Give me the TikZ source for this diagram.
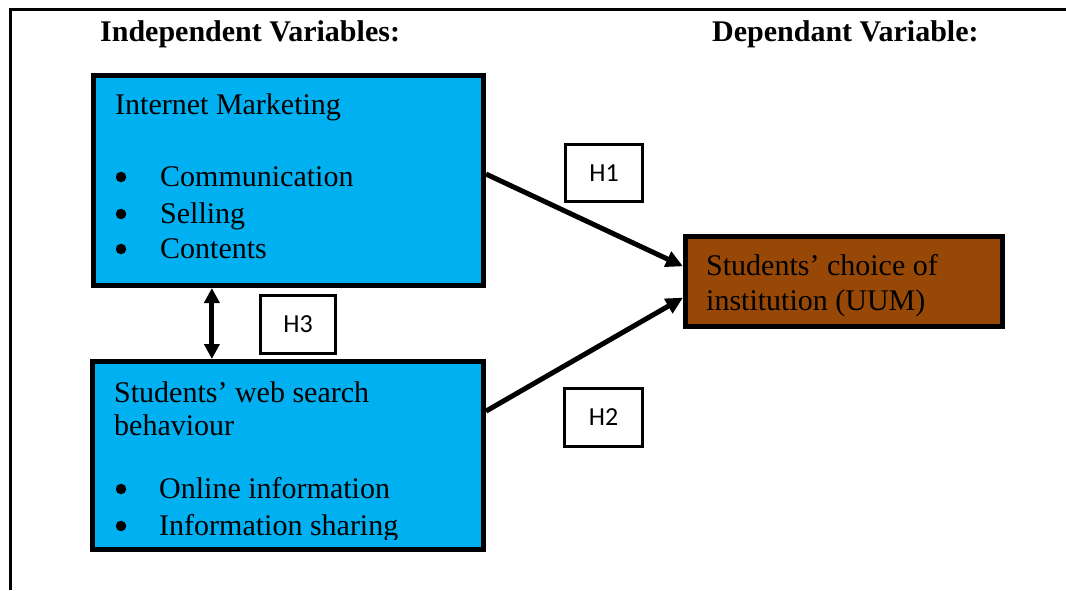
\documentclass[tikz,border=0pt]{standalone}
\usepackage{fontspec}
\setmainfont{Liberation Serif}
\newfontfamily\hfont{Carlito}
\usetikzlibrary{arrows.meta,calc}
\definecolor{varblue}{RGB}{0,176,240}
\definecolor{varbrown}{RGB}{152,72,6}

\begin{document}
\begin{tikzpicture}[x=1pt,y=-1pt,
  varbox/.style={draw, line width=5pt, inner sep=0pt},
  hbox/.style={draw, line width=3pt, fill=white, inner sep=0pt,
    font=\hfont\fontsize{26}{30}\selectfont},
  txt/.style={anchor=base west, inner sep=0pt, font=\fontsize{30}{36}\selectfont},
  title/.style={txt, font=\bfseries\fontsize{30}{36}\selectfont},
  dot/.style={circle, fill, inner sep=0pt, minimum size=10.5pt},
  link/.style={line width=5pt, -{Triangle[length=17pt,width=16pt]}},
  both/.style={line width=5pt, {Triangle[length=15pt,width=15pt]}-{Triangle[length=15pt,width=15pt]}},
]
\useasboundingbox (0,0) rectangle (1066,590);

% page frame
\draw[line width=3pt] (1066,9.5) -- (10.5,9.5) -- (10.5,590);

% headings
\node[title] (tind) at (100,41) {Independent Variables:};
\node[title] (tdep) at (712,41) {Dependant Variable:};

% variable boxes
\node[varbox, fill=varblue, minimum width=390pt, minimum height=210pt] (im) at (288.5,180.5) {};
\node[varbox, fill=varblue, minimum width=391pt, minimum height=188pt] (ws) at (288,455.5) {};
\node[varbox, fill=varbrown, minimum width=317pt, minimum height=90pt] (ch) at (844,281.5) {};

% Internet Marketing
\node[txt] (imt) at (115,114) {Internet Marketing};
\node[dot] (imb1) at (121,177) {};
\node[txt] (imi1) at (160,186) {Communication};
\node[dot] (imb2) at (121,214) {};
\node[txt] (imi2) at (160,223) {Selling};
\node[dot] (imb3) at (121,249) {};
\node[txt] (imi3) at (160,258) {Contents};

% web search behaviour
\node[txt] (wst1) at (114,402) {Students’ web search};
\node[txt] (wst2) at (114,435) {behaviour};
\node[dot] (wsb1) at (121,489) {};
\node[txt] (wsi1) at (159,498) {Online information};
\node[dot] (wsb2) at (121,526) {};
\begin{scope}
  \clip (95,505) rectangle (481,539);
  \node[txt] (wsi2) at (159,535) {Information sharing};
\end{scope}

% dependent variable
\node[txt] (cht1) at (706,275) {Students’ choice of};
\node[txt] (cht2) at (706,310) {institution (UUM)};

% hypothesis labels
\node[hbox, minimum width=77pt, minimum height=57pt] (h1) at (604,173) {H1};
\node[hbox, minimum width=75pt, minimum height=58pt] (h3) at (298,324.5) {H3};
\node[hbox, minimum width=78pt, minimum height=58pt] (h2) at (603.5,417.5) {H2};

% hypothesised paths
\draw[link] ($(im.north east)!0.47!(im.south east)$) -- ($(ch.north west)!0.34!(ch.south west)$);
\draw[link] ($(ws.north east)!0.27!(ws.south east)$) -- ($(ch.north west)!0.67!(ch.south west)$);
\coordinate (h3top) at ($(im.south west)!0.306!(im.south east)$);
\draw[both] (h3top) -- (h3top |- ws.north);
\end{tikzpicture}
\end{document}
